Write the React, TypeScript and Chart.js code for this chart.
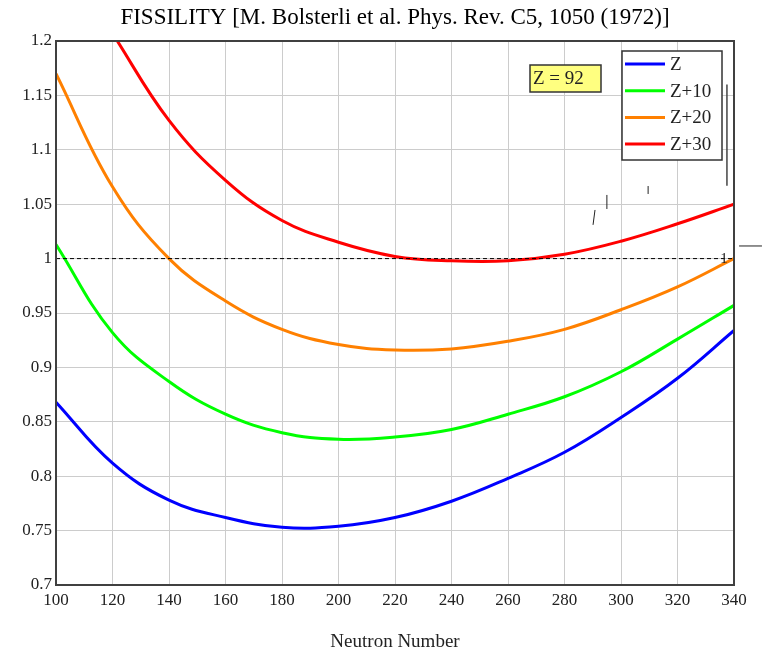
import React, { useEffect, useRef } from "react";
import { Chart, registerables } from "chart.js";

Chart.register(...registerables);

// ---- data ----
const neutronNumbers = [100, 120, 140, 160, 180, 200, 220, 240, 260, 280, 300, 320, 340];
const fissilityZ = [0.868, 0.812, 0.778, 0.762, 0.753, 0.754, 0.762, 0.777, 0.798, 0.822, 0.854, 0.89, 0.934];
const fissilityZ10 = [1.013, 0.932, 0.887, 0.857, 0.84, 0.834, 0.836, 0.843, 0.857, 0.873, 0.896, 0.926, 0.957];
const fissilityZ20 = [1.17, 1.066, 1.0, 0.961, 0.935, 0.921, 0.916, 0.917, 0.924, 0.935, 0.953, 0.974, 1.0];
const fissilityZ30 = [null, 1.207, 1.127, 1.072, 1.035, 1.015, 1.002, 0.998, 0.998, 1.004, 1.016, 1.032, 1.05];
const seriesLabels = ["Z", "Z+10", "Z+20", "Z+30"];
const seriesColors = ["#0000ff", "#00ff00", "#ff8000", "#ff0000"];
const referenceLevel = 1;
const xTickLabels = ["100", "120", "140", "160", "180", "200", "220", "240", "260", "280", "300", "320", "340"];
const yTickLabels = ["0.7", "0.75", "0.8", "0.85", "0.9", "0.95", "1", "1.05", "1.1", "1.15", "1.2"];
const titleText = "FISSILITY [M. Bolsterli et al. Phys. Rev. C5, 1050 (1972)]";
const xAxisTitle = "Neutron Number";
const boxLabel = "Z = 92";
const levelLabel = "1";
// small stray marks of the original plot (data coordinates)
const strayMarks = [
  [337.5, 1.16, 337.5, 1.067],
  [295, 1.0585, 295, 1.0456],
  [290.8, 1.0447, 290.1, 1.031],
  [309.6, 1.0667, 309.6, 1.0594],
  [341.8, 1.0116, 349.9, 1.0116],
];

const SERIF = "'Liberation Serif', 'Times New Roman', serif";

const overlayPlugin = {
  id: "overlay",
  afterDatasetsDraw(chart: any) {
    const { ctx, chartArea: a, scales } = chart;
    const xs = scales.x;
    const ys = scales.y;
    ctx.save();
    // frame
    ctx.strokeStyle = "#404040";
    ctx.lineWidth = 2;
    ctx.strokeRect(a.left, a.top, a.right - a.left, a.bottom - a.top);

    // stray marks
    strayMarks.forEach((m, i) => {
      ctx.beginPath();
      ctx.strokeStyle = i === 0 ? "#444" : "#222";
      ctx.lineWidth = i === 0 ? 1.5 : 1;
      ctx.moveTo(xs.getPixelForValue(m[0]), ys.getPixelForValue(m[1]));
      ctx.lineTo(xs.getPixelForValue(m[2]), ys.getPixelForValue(m[3]));
      ctx.stroke();
    });

    // "1" label at the reference line
    ctx.fillStyle = "#222";
    ctx.font = `15px ${SERIF}`;
    ctx.textAlign = "right";
    ctx.textBaseline = "middle";
    ctx.fillText(levelLabel, xs.getPixelForValue(337.8), ys.getPixelForValue(referenceLevel));

    // Z = 92 box
    const bx = a.left + 474;
    const by = a.top + 24;
    ctx.fillStyle = "#ffff80";
    ctx.fillRect(bx, by, 71, 27);
    ctx.strokeStyle = "#333";
    ctx.lineWidth = 1.5;
    ctx.strokeRect(bx, by, 71, 27);
    ctx.fillStyle = "#222";
    ctx.font = `19px ${SERIF}`;
    ctx.textAlign = "left";
    ctx.textBaseline = "middle";
    ctx.fillText(boxLabel, bx + 3, by + 14);

    // legend
    const lx = a.right - 112;
    const ly = a.top + 10;
    ctx.fillStyle = "#fff";
    ctx.fillRect(lx, ly, 100, 109);
    ctx.strokeStyle = "#333";
    ctx.lineWidth = 1.5;
    ctx.strokeRect(lx, ly, 100, 109);
    seriesLabels.forEach((lab, i) => {
      const yy = ly + 13 + i * 26.7;
      ctx.beginPath();
      ctx.strokeStyle = seriesColors[i];
      ctx.lineWidth = 3;
      ctx.moveTo(lx + 3, yy);
      ctx.lineTo(lx + 43, yy);
      ctx.stroke();
      ctx.fillStyle = "#222";
      ctx.font = `19px ${SERIF}`;
      ctx.textAlign = "left";
      ctx.textBaseline = "middle";
      ctx.fillText(lab, lx + 48, yy + 1);
    });
    ctx.restore();
  },
};

function toPoints(values: (number | null)[]) {
  return neutronNumbers.map((n, i) => ({ x: n, y: values[i] }));
}

export default function App() {
  const canvasRef = useRef<HTMLCanvasElement | null>(null);

  useEffect(() => {
    if (!canvasRef.current) return;
    const seriesValues = [fissilityZ, fissilityZ10, fissilityZ20, fissilityZ30];
    const chart = new Chart(canvasRef.current, {
      type: "line",
      data: {
        datasets: [
          {
            label: "level",
            data: [
              { x: neutronNumbers[0], y: referenceLevel },
              { x: neutronNumbers[neutronNumbers.length - 1], y: referenceLevel },
            ],
            borderColor: "#000",
            borderWidth: 1,
            borderDash: [4, 3],
            pointRadius: 0,
            fill: false,
          },
          ...seriesValues.map((vals, i) => ({
            label: seriesLabels[i],
            data: toPoints(vals),
            borderColor: seriesColors[i],
            backgroundColor: seriesColors[i],
            borderWidth: 3,
            pointRadius: 0,
            fill: false,
            tension: 0.4,
            spanGaps: false,
          })),
        ],
      },
      options: {
        responsive: false,
        animation: false,
        devicePixelRatio: 1,
        layout: { padding: { left: 0, right: 28, top: 0, bottom: 0 } },
        plugins: {
          legend: { display: false },
          tooltip: { enabled: false },
          title: {
            display: true,
            text: titleText,
            fullSize: false,
            color: "#000",
            font: { family: SERIF, size: 23, weight: "normal", lineHeight: 1.1 },
            padding: { top: 5, bottom: 10.7 },
          },
        },
        scales: {
          x: {
            type: "linear",
            min: 100,
            max: 340,
            afterFit: (s: any) => {
              s.height = 67;
            },
            ticks: {
              stepSize: 20,
              padding: 5,
              color: "#222",
              font: { family: SERIF, size: 17 },
              maxRotation: 0,
              autoSkip: false,
              callback: (v: any, i: number) => xTickLabels[i] ?? String(v),
            },
            grid: { color: "#cccccc", lineWidth: 1, drawTicks: false },
            border: { display: true, color: "#404040", width: 2 },
            title: {
              display: true,
              text: xAxisTitle,
              color: "#222",
              font: { family: SERIF, size: 19, lineHeight: 1 },
              padding: { top: 0, bottom: 0 },
            },
          },
          y: {
            type: "linear",
            min: 0.7,
            max: 1.2,
            afterFit: (s: any) => {
              s.width = 56;
            },
            ticks: {
              stepSize: 0.05,
              padding: 4,
              color: "#222",
              font: { family: SERIF, size: 17 },
              autoSkip: false,
              callback: (v: any, i: number) => yTickLabels[i] ?? String(v),
            },
            grid: { color: "#cccccc", lineWidth: 1, drawTicks: false },
            border: { display: true, color: "#404040", width: 2 },
          },
        },
      },
      plugins: [overlayPlugin],
    });
    return () => chart.destroy();
  }, []);

  return (
    <div style={{ position: "absolute", left: 0, top: 0, width: 762, height: 652, background: "#fff" }}>
      <canvas ref={canvasRef} width={762} height={652} style={{ display: "block" }} />
    </div>
  );
}
